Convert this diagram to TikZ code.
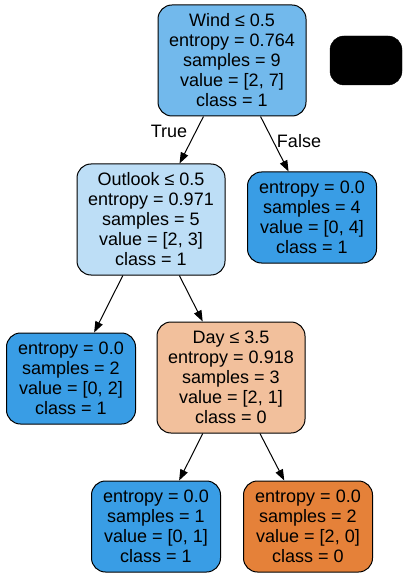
\documentclass[tikz,border=0pt]{standalone}
\usepackage{fontspec}
\setmainfont{Liberation Sans}
\usetikzlibrary{arrows.meta}
\definecolor{rootc}{HTML}{72B9EC}
\definecolor{lightb}{HTML}{BDDEF6}
\definecolor{leafb}{HTML}{399DE5}
\definecolor{lighto}{HTML}{F2C09C}
\definecolor{leafo}{HTML}{E58139}
\tikzset{
  tnode/.style={draw=black, line width=1pt, rounded corners=14pt, align=center,
    font=\fontsize{18}{20}\selectfont, inner sep=0pt},
  split/.style={tnode, minimum width=148pt, minimum height=111pt},
  leaf/.style={tnode, minimum width=129pt, minimum height=91pt},
  edge/.style={line width=1pt, -{Triangle[length=11pt,width=8pt]}},
  elabel/.style={font=\fontsize{18}{20}\selectfont, inner sep=0pt}
}
\begin{document}
\begin{tikzpicture}[x=1pt,y=-1pt]
\useasboundingbox (0,0) rectangle (408,577);
\node[split, fill=rootc] (root) at (232,60.5) {Wind ≤ 0.5\\entropy = 0.764\\samples = 9\\value = [2, 7]\\class = 1};
\node[draw=black, fill=black, rounded corners=14pt, minimum width=72pt, minimum height=49pt, inner sep=0pt] (blk) at (366,60.5) {};
\node[split, fill=lightb] (outlook) at (151,219.5) {Outlook ≤ 0.5\\entropy = 0.971\\samples = 5\\value = [2, 3]\\class = 1};
\node[leaf, fill=leafb] (r1) at (312,217.5) {entropy = 0.0\\samples = 4\\value = [0, 4]\\class = 1};
\node[leaf, fill=leafb] (l2) at (71,378.5) {entropy = 0.0\\samples = 2\\value = [0, 2]\\class = 1};
\node[split, fill=lighto] (day) at (231,377.5) {Day ≤ 3.5\\entropy = 0.918\\samples = 3\\value = [2, 1]\\class = 0};
\node[leaf, fill=leafb] (b1) at (156,526.5) {entropy = 0.0\\samples = 1\\value = [0, 1]\\class = 1};
\node[leaf, fill=leafo] (b2) at (308,526.5) {entropy = 0.0\\samples = 2\\value = [2, 0]\\class = 0};
\draw[edge] (root) -- (outlook);
\draw[edge] (root) -- (r1);
\draw[edge] (outlook) -- (l2);
\draw[edge] (outlook) -- (day);
\draw[edge] (day) -- (b1);
\draw[edge] (day) -- (b2);
\node[elabel] (ltrue) at (169,131) {True};
\node[elabel] (lfalse) at (299,141) {False};
\end{tikzpicture}
\end{document}
